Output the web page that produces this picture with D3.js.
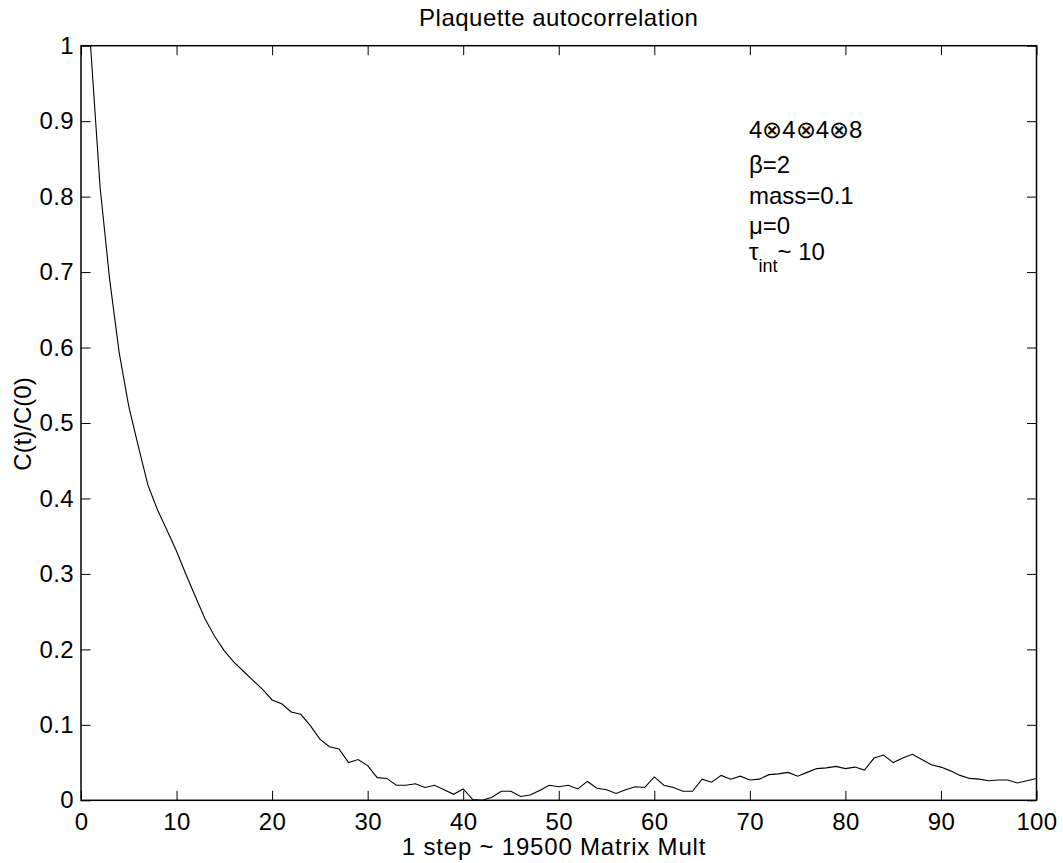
<!DOCTYPE html>
<html>
<head>
<meta charset="utf-8">
<script src="https://cdn.jsdelivr.net/npm/d3@7"></script>
<style>
  html, body { margin: 0; padding: 0; background: #fff; }
  svg { display: block; }
  text { font-family: "Liberation Sans", Arial, Helvetica, sans-serif; fill: #000; }
</style>
</head>
<body>
<svg id="chart" width="1063" height="863"></svg>
<script>
// ---- data ----
const lags = [1,2,3,4,5,6,7,8,9,10,11,12,13,14,15,16,17,18,19,20,
  21,22,23,24,25,26,27,28,29,30,31,32,33,34,35,36,37,38,39,40,
  41,42,43,44,45,46,47,48,49,50,51,52,53,54,55,56,57,58,59,60,
  61,62,63,64,65,66,67,68,69,70,71,72,73,74,75,76,77,78,79,80,
  81,82,83,84,85,86,87,88,89,90,91,92,93,94,95,96,97,98,99,100];
const autocorr = [1.000,0.812,0.690,0.593,0.522,0.469,0.418,0.385,0.358,0.330,
  0.299,0.269,0.240,0.217,0.198,0.183,0.171,0.159,0.147,0.133,
  0.128,0.117,0.114,0.099,0.081,0.071,0.068,0.050,0.054,0.046,
  0.030,0.029,0.020,0.020,0.022,0.017,0.020,0.014,0.008,0.015,
  0.001,0.000,0.004,0.012,0.012,0.005,0.007,0.013,0.020,0.018,
  0.020,0.015,0.025,0.016,0.014,0.009,0.014,0.018,0.017,0.031,
  0.020,0.017,0.012,0.012,0.028,0.024,0.033,0.028,0.032,0.027,
  0.028,0.034,0.035,0.037,0.032,0.037,0.042,0.043,0.045,0.042,
  0.044,0.040,0.056,0.060,0.050,0.056,0.061,0.054,0.047,0.044,
  0.039,0.033,0.029,0.028,0.026,0.027,0.027,0.023,0.026,0.029];
const xTicks = [0,10,20,30,40,50,60,70,80,90,100];
const yTicks = [0,0.1,0.2,0.3,0.4,0.5,0.6,0.7,0.8,0.9,1];
const yTickLabels = ["0","0.1","0.2","0.3","0.4","0.5","0.6","0.7","0.8","0.9","1"];
const titleText = "Plaquette autocorrelation";
const xLabel = "1 step ~ 19500 Matrix Mult";
const yLabel = "C(t)/C(0)";
const annotationLines = ["4\u22974\u22974\u22978", "\u03b2=2", "mass=0.1", "\u03bc=0"];

// ---- layout ----
const svg = d3.select("#chart");
const plotL = 81, plotR = 1036.5, plotT = 45.7, plotB = 800.3;
const x = d3.scaleLinear().domain([0, 100]).range([plotL, plotR]);
const y = d3.scaleLinear().domain([0, 1]).range([plotB, plotT]);
const fs = 24, tickLen = 9.5;

// curve
const line = d3.line().x((d, i) => x(lags[i])).y(d => y(d));
svg.append("path")
  .datum(autocorr)
  .attr("d", line)
  .attr("fill", "none")
  .attr("stroke", "#000")
  .attr("stroke-width", 1.1);

// axes
function styleAxis(g) {
  g.select(".domain").remove();
  g.selectAll(".tick line").attr("stroke", "#000").attr("stroke-width", 1);
  g.selectAll("text").attr("font-size", fs).attr("font-family", "Liberation Sans, Arial, sans-serif")
    .attr("fill", "#000").attr("letter-spacing", 0.4);
}
svg.append("g").attr("transform", `translate(0,${plotB})`)
  .call(d3.axisBottom(x).tickValues(xTicks).tickFormat(d3.format("d")).tickSizeInner(-tickLen).tickSizeOuter(0).tickPadding(13))
  .call(styleAxis);
svg.append("g").attr("transform", `translate(0,${plotT})`)
  .call(d3.axisTop(x).tickValues(xTicks).tickFormat("").tickSizeInner(-tickLen).tickSizeOuter(0))
  .call(styleAxis);
svg.append("g").attr("transform", `translate(${plotL},0)`)
  .call(d3.axisLeft(y).tickValues(yTicks).tickFormat((d, i) => yTickLabels[i]).tickSizeInner(-tickLen).tickSizeOuter(0).tickPadding(7))
  .call(styleAxis);
svg.append("g").attr("transform", `translate(${plotR},0)`)
  .call(d3.axisRight(y).tickValues(yTicks).tickFormat("").tickSizeInner(-tickLen).tickSizeOuter(0))
  .call(styleAxis);

// box
svg.append("rect")
  .attr("x", plotL).attr("y", plotT)
  .attr("width", plotR - plotL).attr("height", plotB - plotT)
  .attr("fill", "none").attr("stroke", "#000").attr("stroke-width", 1.5);

// title and labels
svg.append("text").attr("x", (plotL + plotR) / 2).attr("y", 26)
  .attr("text-anchor", "middle").attr("font-size", fs).attr("letter-spacing", 0.5).text(titleText);
svg.append("text").attr("x", 554).attr("y", 855)
  .attr("text-anchor", "middle").attr("font-size", fs).attr("letter-spacing", 0.8).text(xLabel);
svg.append("text").attr("transform", "translate(31,424) rotate(-90)")
  .attr("text-anchor", "middle").attr("font-size", fs).text(yLabel);

// annotation
const annX = 749;
const annBaselines = [138, 172.5, 204, 234];
annotationLines.forEach((t, i) => {
  svg.append("text").attr("x", annX).attr("y", annBaselines[i])
    .attr("font-size", fs).text(t);
});
const tau = svg.append("text").attr("x", annX).attr("y", 259.5).attr("font-size", fs);
tau.append("tspan").text("\u03c4");
tau.append("tspan").attr("font-size", 18).attr("dy", 12).text("int");
tau.append("tspan").attr("dy", -12).text("~ 10");
</script>
</body>
</html>
